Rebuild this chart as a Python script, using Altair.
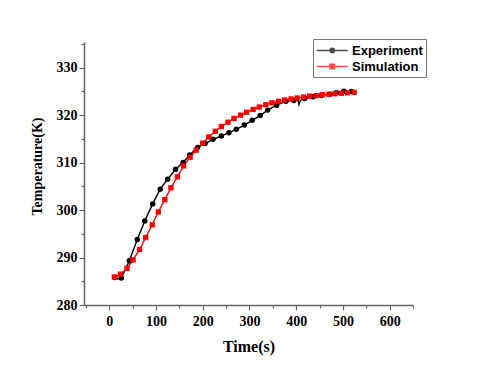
import altair as alt
import pandas as pd

# Experiment (black circles)
exp_time = [12, 19, 26, 43, 60, 76, 93, 109, 125, 142, 158, 172, 189, 205, 222, 240, 256, 272,
            289, 306, 323, 339, 358, 378, 395, 404, 406, 409, 418, 436, 454, 472, 486, 502, 518]
exp_temp = [285.8, 285.5, 285.7, 289.3, 293.8, 297.7, 301.3, 304.4, 306.5, 308.6, 310.0, 311.6,
            313.2, 314.0, 314.9, 315.6, 316.3, 317.0, 317.9, 318.9, 319.9, 321.05, 322.1, 322.9,
            323.1, 323.2, 322.2, 323.1, 323.5, 323.85, 324.15, 324.4, 324.7, 325.05, 325.0]
exp_marker = [True, False, True, True, True, True, True, True, True, True, True, True,
              True, True, True, True, True, True, True, True, True, True, True, True,
              True, False, False, False, True, True, True, True, True, True, True]

# Simulation (red squares)
sim_time = [11, 24, 38, 51, 65, 78, 92, 105, 119, 132, 146, 159, 173, 186, 200, 213, 227, 240,
            254, 267, 281, 294, 308, 321, 335, 348, 362, 375, 389, 402, 416, 429, 443, 456,
            470, 483, 497, 510, 524]
sim_temp = [285.9, 286.5, 287.7, 289.5, 291.7, 294.2, 296.9, 299.6, 302.2, 304.7, 307.0, 309.3,
            311.1, 312.6, 314.1, 315.4, 316.6, 317.6, 318.5, 319.3, 320.0, 320.6, 321.2, 321.7,
            322.2, 322.6, 322.9, 323.2, 323.4, 323.6, 323.8, 324.0, 324.1, 324.3, 324.4, 324.5,
            324.6, 324.7, 324.8]

series_names = ["Experiment", "Simulation"]
series_colors = ["#000000", "#ff0000"]
x_major = [0, 100, 200, 300, 400, 500, 600]
x_minor = [-50, 50, 150, 250, 350, 450, 550, 650]
y_major = [280, 290, 300, 310, 320, 330]
y_minor = [285, 295, 305, 315, 325, 335]

exp_df = pd.DataFrame({"t": exp_time, "T": exp_temp, "m": exp_marker, "series": "Experiment"})
sim_df = pd.DataFrame({"t": sim_time, "T": sim_temp, "m": True, "series": "Simulation"})
df = pd.concat([exp_df, sim_df], ignore_index=True)

xscale = alt.Scale(domain=[-54, 650], nice=False, zero=False)
yscale = alt.Scale(domain=[280, 335.4], nice=False, zero=False)
cscale = alt.Scale(domain=series_names, range=series_colors)


def ring(r):
    return f"M{1 - r},0A{r},{r},0,1,1,{1 + r},0A{r},{r},0,1,1,{1 - r},0Z"


def box(h):
    return f"M{1 - h},{-h}L{1 + h},{-h}L{1 + h},{h}L{1 - h},{h}Z"


# legend glyphs: line segment with a (solid-looking) marker in its middle
circle_path = "M-1,0L3,0" + ring(0.3) + ring(0.19) + ring(0.08)
square_path = "M-1,0L3,0" + box(0.3) + box(0.18) + box(0.06)

xax = alt.Axis(values=x_major, title="Time(s)", grid=False, orient="bottom")
yax = alt.Axis(values=y_major, title="Temperature(K)", grid=False, titleY=124, orient="left")

X = alt.X("t:Q", scale=xscale, axis=None)
Y = alt.Y("T:Q", scale=yscale, axis=None)

lines = alt.Chart(df).mark_line(strokeWidth=1.4).encode(
    x=alt.X("t:Q", scale=xscale, axis=xax),
    y=alt.Y("T:Q", scale=yscale, axis=yax),
    color=alt.Color("series:N", scale=cscale, legend=None),
    detail="series:N",
)

exp_pts = alt.Chart(exp_df).transform_filter("datum.m").mark_point(
    shape="circle", filled=True, size=30, opacity=1
).encode(x=X, y=Y, color=alt.Color("series:N", scale=cscale, legend=None))

sim_pts = alt.Chart(sim_df).mark_point(
    shape="square", filled=True, size=28, opacity=1
).encode(x=X, y=Y, color=alt.Color("series:N", scale=cscale, legend=None))

minor = alt.Chart(df).mark_point(size=0, opacity=0).encode(
    x=alt.X("t:Q", scale=xscale, axis=alt.Axis(values=x_minor, labels=False, domain=False,
                                               title=None, tickSize=3, grid=False, orient="bottom")),
    y=alt.Y("T:Q", scale=yscale, axis=alt.Axis(values=y_minor, labels=False, domain=False,
                                               title=None, tickSize=3, grid=False, orient="left")),
)

leg = alt.Legend(
    orient="none", legendX=229, legendY=-3, title=None,
    strokeColor="#777777", padding=3, fillColor="white",
    labelFont="Liberation Sans", labelFontWeight="bold", labelFontSize=13,
    labelColor="black", labelOffset=19, symbolSize=240, symbolStrokeWidth=1.3,
    rowPadding=0,
)

legend_layer = alt.Chart(df).mark_point(filled=False, size=0).encode(
    x=X, y=Y,
    color=alt.Color("series:N", scale=cscale, legend=leg),
    shape=alt.Shape("series:N", scale=alt.Scale(domain=series_names,
                                                range=[circle_path, square_path]),
                    legend=leg),
)

chart = alt.layer(lines, exp_pts, sim_pts, legend_layer, minor).resolve_axis(
    x="independent", y="independent"
).resolve_legend(color="independent", shape="independent").properties(
    width=329, height=263,
    autosize=alt.AutoSizeParams(type="none"),
    padding={"left": 76, "top": 34, "right": 59, "bottom": 54},
).configure_view(stroke=None).configure_axis(
    domainColor="#666666", domainWidth=1.5, tickColor="#666666", tickWidth=1.2, tickSize=5,
    labelFont="Liberation Serif", labelFontWeight="bold", labelFontSize=14, labelColor="black",
    labelPadding=2,
    titleFont="Liberation Serif", titleFontWeight="bold", titleColor="black",
).configure_axisX(titleFontSize=16, titlePadding=10, labelPadding=4).configure_axisY(
    titleFontSize=14, titlePadding=12
)

chart.save("out.html", embed_options={"renderer": "svg", "actions": False})
